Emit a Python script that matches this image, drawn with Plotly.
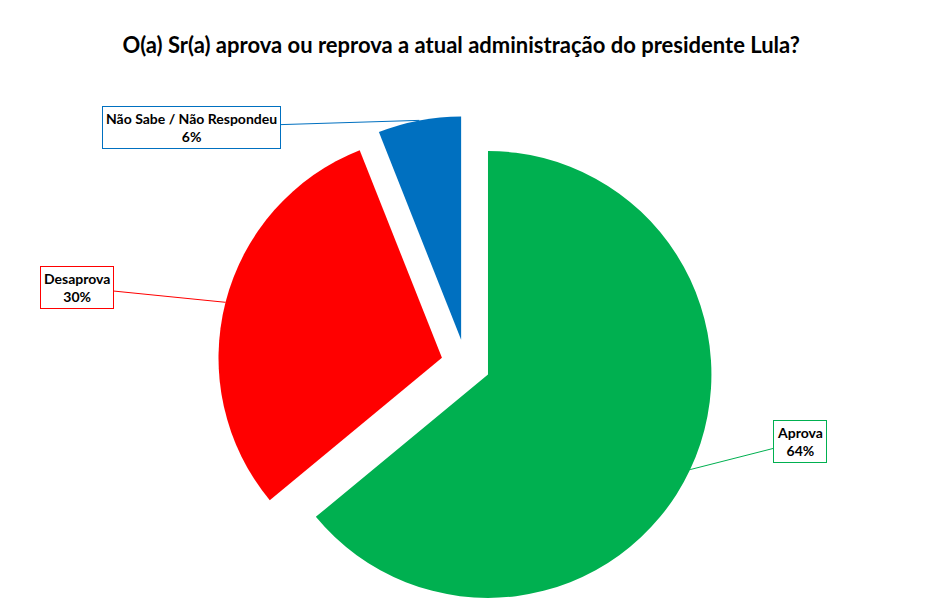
import numpy as np
import plotly.graph_objects as go

# survey answers
labels = ["Aprova", "Desaprova", "Não Sabe / Não Respondeu"]
values = [64, 30, 6]
colors = ["#00B050", "#FF0000", "#0070C0"]
# label box offsets from the slice edge (px)
box_dx = [110, -149, -228]
box_dy = [-28, -15, 7]

W, H = 943, 612
pull = 0.11
dom_x = [0.2, 0.7878]
dom_y = [0.0, 0.8105]

fig = go.Figure(go.Pie(
    labels=labels,
    values=values,
    sort=False,
    direction="clockwise",
    rotation=0,
    pull=pull,
    marker=dict(colors=colors, line=dict(width=0)),
    textinfo="none",
    hoverinfo="label+percent",
    showlegend=False,
    domain=dict(x=dom_x, y=dom_y),
))

# work out where each slice's outer edge sits, so the callouts hit it
box_h = H * (dom_y[1] - dom_y[0])
box_w = W * (dom_x[1] - dom_x[0])
r = min(box_w, box_h) / (2 + 2 * pull)
cx = W * (dom_x[0] + dom_x[1]) / 2
cy = H * (1 - dom_y[0]) - box_h / 2
frac = np.array(values) / sum(values)
start = np.concatenate([[0], np.cumsum(frac)[:-1]])
mid = (start + frac / 2) * 2 * np.pi

for i, lab in enumerate(labels):
    sx, sy = np.sin(mid[i]), -np.cos(mid[i])
    tx = cx + sx * r * (1 + pull)
    ty = cy + sy * r * (1 + pull)
    fig.add_annotation(
        x=tx / W, y=1 - ty / H, xref="paper", yref="paper",
        ax=box_dx[i], ay=box_dy[i],
        text=f"<b>{lab}<br>{round(frac[i] * 100)}%</b>",
        showarrow=True, arrowhead=0, arrowwidth=1, arrowcolor=colors[i],
        bordercolor=colors[i], borderwidth=1, borderpad=3,
        bgcolor="white",
        font=dict(family="Lato", size=14, color="black"),
        align="center",
    )

fig.update_layout(
    width=W, height=H,
    margin=dict(l=0, r=0, t=0, b=0),
    paper_bgcolor="white",
    title=dict(
        text="<b>O(a) Sr(a) aprova ou reprova a atual administração do presidente Lula?</b>",
        x=0.489, xanchor="center", y=0.9265, yanchor="middle",
        font=dict(family="Lato", size=22, color="black"),
    ),
)

# drop the browser's default page margin so the figure sits at 0,0
fig.write_html("out.html", config={"displayModeBar": False},
               post_script="document.body.style.margin='0';")
